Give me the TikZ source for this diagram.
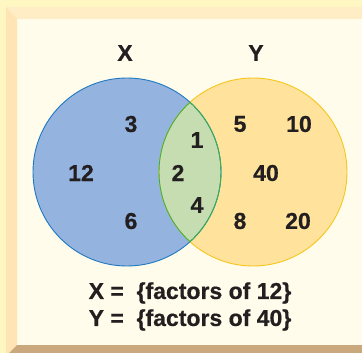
\documentclass[tikz,border=0pt]{standalone}
\usepackage{fontspec}
\setmainfont{Liberation Sans}
\newfontfamily\heavy{Liberation Sans Bold}[FakeBold=0.6]
\definecolor{outerbg}{HTML}{FFF7C2}
\definecolor{topbev}{HTML}{FFEDC6}
\definecolor{leftbev}{HTML}{FFE5B5}
\definecolor{panel}{HTML}{FFFCEB}
\definecolor{botbev}{HTML}{C8A87C}
\definecolor{bluefill}{HTML}{94B3DE}
\definecolor{bluestroke}{HTML}{1F78C2}
\definecolor{yelfill}{HTML}{FFE39C}
\definecolor{yelstroke}{HTML}{F7C51E}
\definecolor{lensfill}{HTML}{C6DDB2}
\definecolor{lensstroke}{HTML}{3CB04A}
\definecolor{ink}{HTML}{231F20}
\begin{document}
\begin{tikzpicture}[x=1pt,y=-1pt,
  lbl/.style={font=\heavy\fontsize{23}{26}\selectfont, text=ink, inner sep=0pt},
  num/.style={lbl}]
\useasboundingbox (0,0) rectangle (362,353);
\fill[outerbg] (0,0) rectangle (362,353);
\fill[panel] (17,19) rectangle (362,345);
\fill[topbev] (6,7) -- (362,7) -- (362,19) -- (17,19) -- cycle;
\fill[leftbev] (6,7) -- (17,19) -- (17,345) -- (9,353) -- (6,353) -- cycle;
\fill[botbev] (17,345) -- (362,345) -- (362,353) -- (9,353) -- cycle;
% circles
\fill[bluefill] (127,172) circle (94);
\fill[yelfill] (253,172) circle (94);
\begin{scope}
  \clip (127,172) circle (94);
  \fill[lensfill] (253,172) circle (94);
\end{scope}
\draw[bluestroke, line width=0.9pt] (127,172) circle (94);
\draw[yelstroke, line width=0.9pt] (253,172) circle (94);
\begin{scope}
  \clip (127,172) circle (94);
  \draw[lensstroke, line width=0.9pt] (253,172) circle (94);
\end{scope}
\begin{scope}
  \clip (253,172) circle (94);
  \draw[lensstroke, line width=0.9pt] (127,172) circle (94);
\end{scope}
% labels
\node[lbl] (X) at (125,53) {X};
\node[lbl] (Y) at (256,53) {Y};
\node[num] (n3) at (131,124) {3};
\node[num] (n12) at (81,173) {12};
\node[num] (n6) at (131,221) {6};
\node[num] (n1) at (197,140) {1};
\node[num] (n2) at (178,173) {2};
\node[num] (n4) at (197,205) {4};
\node[num] (n5) at (240,124) {5};
\node[num] (n10) at (299,124) {10};
\node[num] (n40) at (266,173) {40};
\node[num] (n8) at (240,221) {8};
\node[num] (n20) at (298,221) {20};
\node[lbl] (fx) at (190,293) {X =\ \ \{factors of 12\}};
\node[lbl] (fy) at (190,320) {Y =\ \ \{factors of 40\}};
\end{tikzpicture}
\end{document}
